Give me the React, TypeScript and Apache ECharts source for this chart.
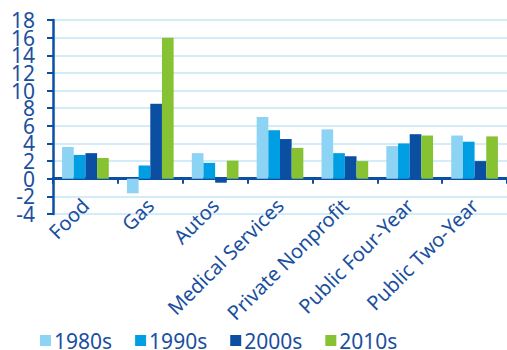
import React, { useEffect, useRef } from "react";
import * as echarts from "echarts";

const categories = ["Food", "Gas", "Autos", "Medical Services", "Private Nonprofit", "Public Four-Year", "Public Two-Year"];
const seriesNames = ["1980s", "1990s", "2000s", "2010s"];
const s1980 = [3.6, -1.65, 2.9, 7.0, 5.6, 3.7, 4.9];
const s1990 = [2.7, 1.5, 1.8, 5.5, 2.9, 4.0, 4.2];
const s2000 = [2.9, 8.5, -0.45, 4.5, 2.55, 5.05, 2.0];
const s2010 = [2.35, 16.0, 2.05, 3.5, 2.0, 4.9, 4.8];
const colors = ["#8dd3f4", "#009fe3", "#0b4fa2", "#86c232"];
const yTicks = { min: -4, max: 18, interval: 2 };

export default function App() {
  const ref = useRef<HTMLDivElement>(null);
  useEffect(() => {
    const chart = echarts.init(ref.current!, null, { renderer: "svg" });
    const dark = "#1a4f9f";
    const font = "Noto Sans";
    const data = [s1980, s1990, s2000, s2010];
    const labelBase = { color: dark, fontSize: 21, fontFamily: font, margin: 18, lineHeight: 16 };
    chart.setOption({
      animation: false,
      textStyle: { fontFamily: font },
      grid: { left: 53, top: 20, width: 455, height: 194, containLabel: false },
      legend: {
        left: 40,
        top: 330,
        padding: 0,
        itemWidth: 11,
        itemHeight: 11,
        itemGap: 23,
        icon: "rect",
        textStyle: { color: dark, fontSize: 21, fontFamily: font, lineHeight: 16, padding: [0, 0, 0, -2] },
        data: seriesNames,
      },
      xAxis: {
        type: "category",
        data: categories,
        axisLine: { onZero: true, lineStyle: { color: "#0b4fa2", width: 3 } },
        axisTick: { show: true, alignWithLabel: false, length: 5, lineStyle: { color: "#0b4fa2", width: 2 } },
        axisLabel: { rotate: 45, margin: -12, color: dark, fontSize: 20, fontFamily: font, interval: 0 },
        splitLine: { show: false },
      },
      yAxis: [
        {
          type: "value",
          min: yTicks.min,
          max: yTicks.max,
          interval: yTicks.interval,
          axisLine: { show: true, lineStyle: { color: "#0b4fa2", width: 2.5 } },
          axisTick: { show: true, length: 6, lineStyle: { color: "#0b4fa2", width: 2 } },
          axisLabel: { ...labelBase, formatter: (v: number) => ((v - yTicks.min) % 4 === 0 ? String(v) : "") },
          splitLine: { show: true, lineStyle: { color: "#d3edf8", width: 2 } },
        },
        {
          type: "value",
          position: "left",
          min: yTicks.min,
          max: yTicks.max,
          interval: yTicks.interval,
          axisLine: { show: false },
          axisTick: { show: false },
          axisLabel: { ...labelBase, formatter: (v: number) => ((v - yTicks.min) % 4 !== 0 ? String(v) : "") },
          splitLine: { show: false },
        },
      ],
      series: seriesNames.map((n, i) => ({
        name: n,
        type: "bar",
        yAxisIndex: 0,
        data: data[i],
        barGap: "0%",
        barCategoryGap: "28%",
        itemStyle: { color: colors[i] },
      })),
    });
    return () => chart.dispose();
  }, []);
  return <div ref={ref} style={{ width: 507, height: 350, position: "absolute", left: 0, top: 0 }} />;
}
